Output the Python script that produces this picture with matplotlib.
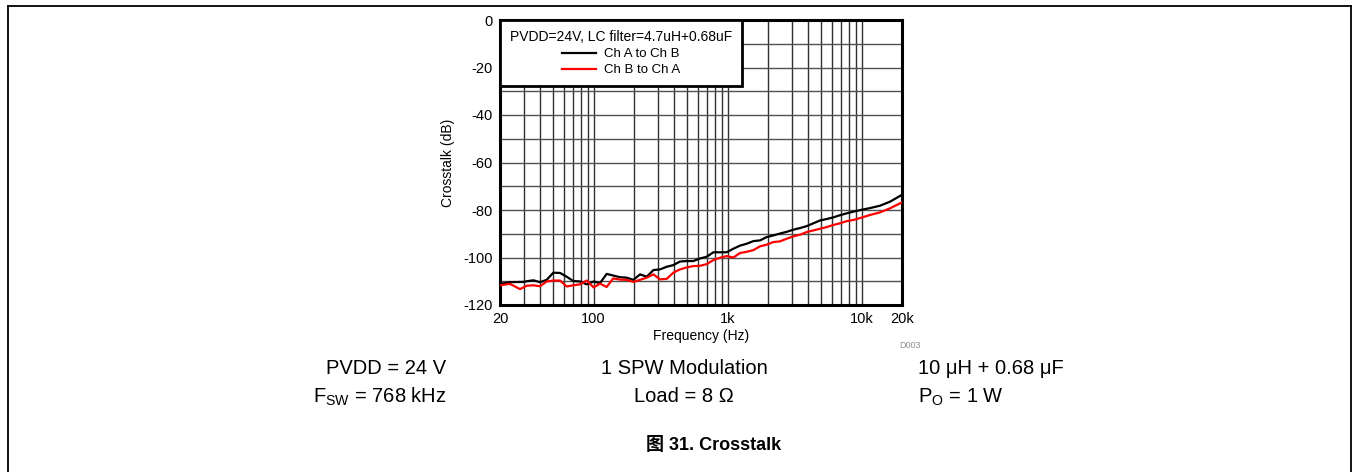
import matplotlib
matplotlib.use("Agg")
import matplotlib.pyplot as plt
from matplotlib.ticker import FixedLocator, NullFormatter
from matplotlib.lines import Line2D

plt.rcParams['font.family'] = ['Liberation Sans', 'Noto Sans CJK SC', 'DejaVu Sans']
plt.rcParams['axes.unicode_minus'] = False

# ---- data ----
freq_hz = [20, 23.7, 28.2, 29.9, 31.6, 35.5, 39.8, 44.6, 50, 56.1, 62.9, 70.5, 79.1, 88.7, 100,
           111.5, 125, 140, 157, 176, 198, 222, 249, 279, 313, 351, 393, 441, 494, 554, 622,
           697, 782, 876, 983, 1103, 1237, 1387, 1555, 1744, 1955, 2193, 2459, 2757, 3092,
           3467, 3888, 4360, 4889, 5482, 6147, 6893, 7730, 8668, 10000, 11540, 13700, 16270, 20000]

ch_a_to_b = [-111.1, -110.4, -110.3, -110.3, -110.0, -109.6, -110.4, -109.4, -106.4, -106.5, -108.1,
             -109.9, -110.1, -111.3, -110.1, -110.8, -106.9, -107.6, -108.3, -108.5, -109.4,
             -107.1, -108.1, -105.3, -105.0, -103.9, -103.2, -101.7, -101.5, -101.5, -100.4,
             -99.7, -97.8, -97.8, -97.8, -96.3, -95.0, -94.2, -93.1, -92.8, -91.4, -90.7,
             -89.9, -89.2, -88.3, -87.6, -86.8, -85.6, -84.4, -83.8, -83.1, -82.2, -81.4,
             -80.7, -79.9, -79.2, -78.2, -76.5, -73.6]

ch_b_to_a = [-111.7, -111.1, -113.3, -112.6, -111.9, -111.7, -112.1, -110.1, -109.7, -109.7, -112.2,
             -111.7, -111.3, -109.7, -112.6, -111.0, -112.4, -108.8, -109.3, -109.4, -110.3,
             -109.4, -108.5, -107.1, -109.2, -109.0, -106.4, -105.0, -104.2, -103.6, -103.5,
             -102.8, -101.1, -100.1, -99.4, -100.0, -98.1, -97.6, -96.9, -95.3, -94.6, -93.5,
             -93.2, -92.1, -91.1, -90.4, -89.3, -88.6, -87.9, -87.2, -86.3, -85.6, -84.7,
             -84.2, -83.2, -82.1, -81.0, -79.3, -76.8]

x_ticks = [20, 100, 1000, 10000, 20000]
x_tick_labels = ["20", "100", "1k", "10k", "20k"]
y_ticks = [0, -20, -40, -60, -80, -100, -120]
series_names = ["Ch A to Ch B", "Ch B to Ch A"]
legend_title = "PVDD=24V, LC filter=4.7uH+0.68uF"

W, H = 1353, 472
fig = plt.figure(figsize=(W / 100, H / 100), dpi=100)

# outer frame (left, top, right)
frame_kw = dict(color="black", lw=1.3, transform=fig.transFigure)
fig.add_artist(Line2D([8 / W, 8 / W], [0, 1 - 6 / H], **frame_kw))
fig.add_artist(Line2D([8 / W, 1351 / W], [1 - 6 / H, 1 - 6 / H], **frame_kw))
fig.add_artist(Line2D([1351 / W, 1351 / W], [0, 1 - 6 / H], **frame_kw))

ax = fig.add_axes([500 / W, 1 - 305 / H, 402 / W, 285 / H])
ax.plot(freq_hz, ch_a_to_b, color="black", lw=1.6, label=series_names[0], zorder=3)
ax.plot(freq_hz, ch_b_to_a, color="#ff0000", lw=1.6, label=series_names[1], zorder=3)

ax.set_xscale("log")
ax.set_xlim(20, 20000)
ax.set_ylim(-120, 0)

ax.xaxis.set_major_locator(FixedLocator(x_ticks))
ax.set_xticklabels(x_tick_labels)
minor_x = [m * 10 ** d for d in range(1, 5) for m in range(2, 10) if 20 < m * 10 ** d < 20000]
ax.xaxis.set_minor_locator(FixedLocator(minor_x))
ax.xaxis.set_minor_formatter(NullFormatter())
ax.set_yticks(y_ticks)
ax.yaxis.set_minor_locator(FixedLocator(list(range(-110, 0, 20))))

ax.tick_params(which="both", length=0, labelsize=10.5, pad=5)
ax.grid(True, which="both", axis="x", color="#303030", lw=1.0)
ax.grid(True, which="both", axis="y", color="#505050", lw=1.0)
ax.set_axisbelow(True)
for s in ax.spines.values():
    s.set_linewidth(2.2)
    s.set_color("black")

ax.set_xlabel("Frequency (Hz)", fontsize=10, labelpad=2)
ax.set_ylabel("Crosstalk (dB)", fontsize=10, labelpad=6)

leg = ax.legend(title=legend_title, loc="upper left", bbox_to_anchor=(0, 1),
                borderaxespad=0, fancybox=False, framealpha=1, edgecolor="black",
                fontsize=9.5, title_fontsize=10, handlelength=2.6, handletextpad=0.6,
                labelspacing=0.3, borderpad=0.75)
leg.get_frame().set_linewidth(2.0)
leg.set_zorder(5)
leg._legend_box.sep = 3

fig.text(910 / W, 1 - 345 / H, "D003", fontsize=6.5, color="#909090", ha="center", va="center")

fs = 14.5
fig.text(446 / W, 1 - 368 / H, "PVDD = 24 V", fontsize=fs, ha="right", va="center")
fig.text(447 / W, 1 - 397 / H, r"F$_{\mathregular{SW}}$ = 768 kHz", fontsize=fs, ha="right", va="center")
fig.text(684 / W, 1 - 368 / H, "1 SPW Modulation", fontsize=fs, ha="center", va="center")
fig.text(684 / W, 1 - 397 / H, "Load = 8 Ω", fontsize=fs, ha="center", va="center")
fig.text(918 / W, 1 - 368 / H, "10 μH + 0.68 μF", fontsize=fs, ha="left", va="center")
fig.text(918 / W, 1 - 397 / H, r"P$_{\mathregular{O}}$ = 1 W", fontsize=fs, ha="left", va="center")

fig.text(714 / W, 1 - 445 / H, "图 31. Crosstalk", fontsize=13, fontweight="bold",
         ha="center", va="center")

fig.savefig("out.png", dpi=100)
